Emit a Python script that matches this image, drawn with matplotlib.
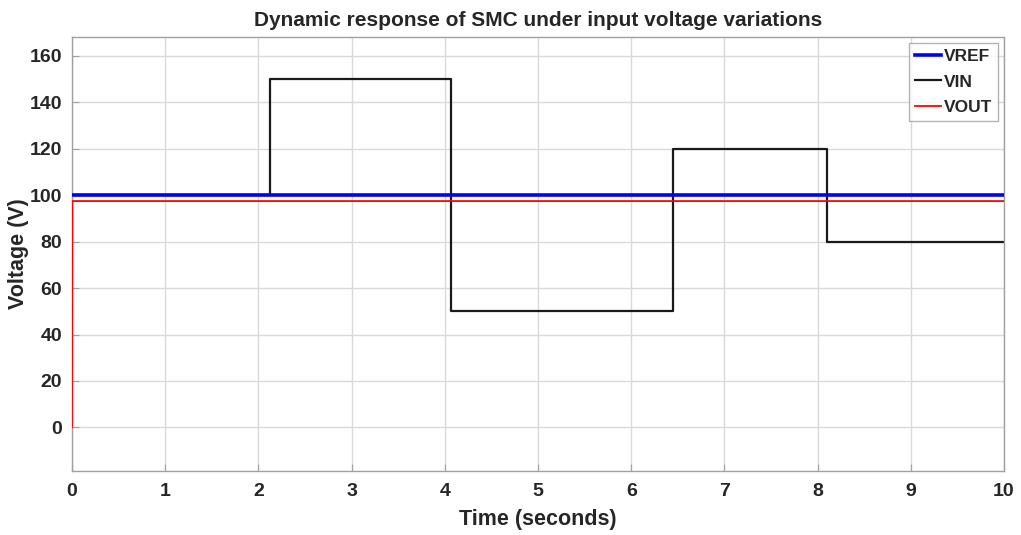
import matplotlib
matplotlib.use("Agg")
import matplotlib.pyplot as plt

plt.rcParams["font.family"] = ["Liberation Sans", "DejaVu Sans"]

# ── data ──────────────────────────────────────────────────────────────
vref_t = [0, 10]
vref_v = [100, 100]

vin_t = [0, 2.12, 4.07, 6.45, 8.10, 10]
vin_v = [100, 150, 50, 120, 80, 80]

vout_t = [0, 0.004, 10]
vout_v = [0, 97.5, 97.5]

x_ticks = list(range(0, 11))
y_ticks = list(range(0, 161, 20))

TXT = "#262626"

fig = plt.figure(figsize=(10.21, 5.35), dpi=100)
ax = fig.add_axes([0.0705, 0.120, 0.9129, 0.8114])

ax.plot(vin_t, vin_v, color="#1a1a1a", lw=1.6, drawstyle="steps-post",
        label="VIN", zorder=2)
ax.plot(vref_t, vref_v, color="#0000ff", lw=2.6, label="VREF", zorder=3)
ax.plot(vout_t, vout_v, color="#ff0000", lw=1.3, label="VOUT", zorder=4)

ax.set_xlim(0, 10)
ax.set_ylim(-18.7, 168.3)
ax.set_xticks(x_ticks)
ax.set_yticks(y_ticks)
ax.grid(True, color="#d9d9d9", lw=1.0)
ax.set_axisbelow(True)
for sp in ax.spines.values():
    sp.set_color("#a0a0a0")
    sp.set_linewidth(1.0)
ax.tick_params(axis="both", direction="in", length=5, color="#a0a0a0",
               labelsize=14, labelcolor=TXT)
ax.tick_params(axis="x", pad=9)
ax.tick_params(axis="y", pad=7)
for lab in ax.get_xticklabels() + ax.get_yticklabels():
    lab.set_fontweight("bold")

ax.set_xlabel("Time (seconds)", fontsize=15.5, fontweight="bold", color=TXT,
              labelpad=6)
ax.set_ylabel("Voltage (V)", fontsize=15.5, fontweight="bold", color=TXT)
ax.yaxis.set_label_coords(-0.046, 0.5)
ax.set_title("Dynamic response of SMC under input voltage variations",
             fontsize=15, fontweight="bold", color=TXT, pad=8)

h, l = ax.get_legend_handles_labels()
order = [l.index("VREF"), l.index("VIN"), l.index("VOUT")]
leg = ax.legend([h[i] for i in order], [l[i] for i in order],
                loc="upper right", prop={"weight": "bold", "size": 12.5},
                frameon=True, fancybox=False, handlelength=1.5,
                handletextpad=0.15, borderpad=0.35, labelspacing=0.6,
                borderaxespad=0.35)
leg.get_frame().set_edgecolor("#a0a0a0")
leg.get_frame().set_linewidth(1.0)
for t in leg.get_texts():
    t.set_color(TXT)

fig.savefig("out.png", dpi=100, facecolor="white")
